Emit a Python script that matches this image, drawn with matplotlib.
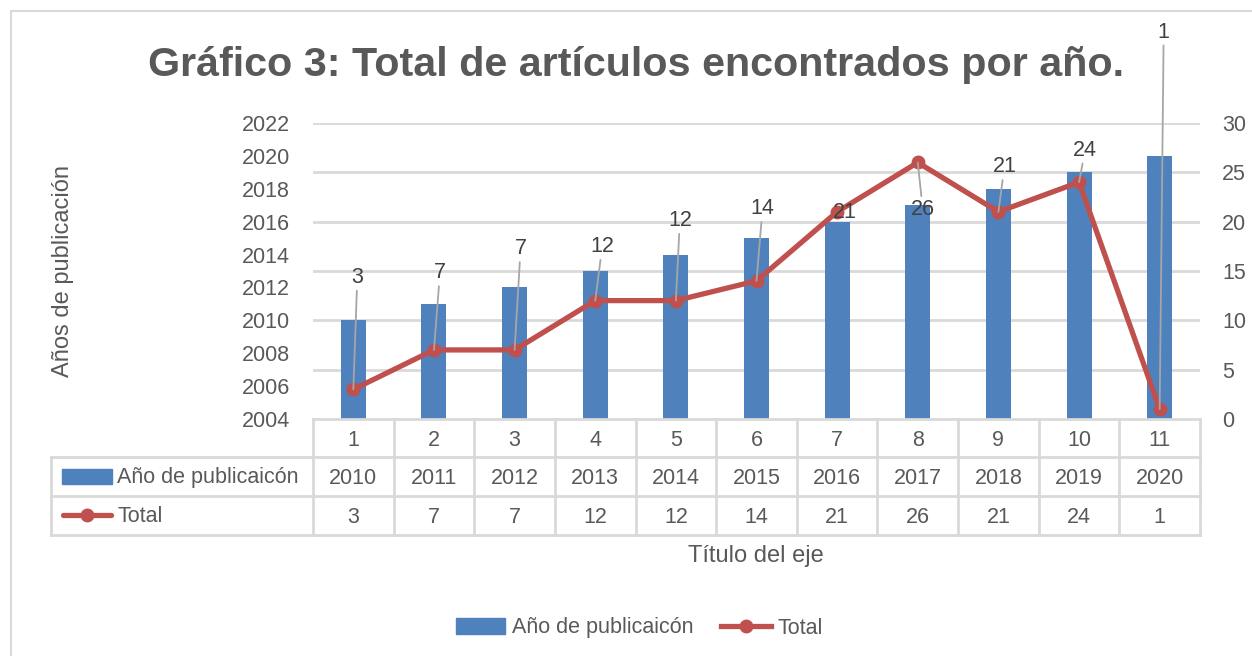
import matplotlib.pyplot as plt
from matplotlib.lines import Line2D
from matplotlib.patches import Rectangle, Patch
from matplotlib.transforms import blended_transform_factory
import numpy as np

# =========================
# DATA
# =========================
categories = ["1", "2", "3", "4", "5", "6", "7", "8", "9", "10", "11"]
years = [2010, 2011, 2012, 2013, 2014, 2015, 2016, 2017, 2018, 2019, 2020]
total = [3, 7, 7, 12, 12, 14, 21, 26, 21, 24, 1]

left_ticks = list(range(2004, 2023, 2))
right_ticks = list(range(0, 31, 5))

title = "Gráfico 3: Total de artículos encontrados por año."
bar_name = "Año de publicaicón"
line_name = "Total"

# label offsets (pixels) for the dragged data labels
label_offsets = [(4, 112), (6, 77), (6, 101), (7, 54), (4, 80), (6, 72),
                 (8, -1), (5, -47), (6, 45), (6, 32), (4, 377)]

# =========================
# STYLE
# =========================
BLUE = "#4F81BD"
RED = "#C0504D"
TXT = "#595959"
GRID = "#D9D9D9"
plt.rcParams["font.family"] = ["Liberation Sans", "DejaVu Sans"]
FS = 15.5
FS_T = 17

W, H = 1252, 656
fig = plt.figure(figsize=(W / 100, H / 100), dpi=100)


def fx(px):
    return px / W


def fy(py):
    return 1 - py / H


# outer chart border
fig.add_artist(Rectangle((fx(11), fy(700)), fx(1300), fy(11) - fy(700), transform=fig.transFigure,
                         fill=False, edgecolor="#D9D9D9", lw=1.5))

L, R, T, B = 313, 1200, 123, 419
ax = fig.add_axes([fx(L), fy(B), fx(R) - fx(L), fy(T) - fy(B)])
ax2 = ax.twinx()

x = np.arange(len(categories))
ax.bar(x, years, width=0.31, color=BLUE, zorder=2)
ax.set_ylim(2004, 2022)
ax.set_xlim(-0.5, len(categories) - 0.5)
ax.set_yticks(left_ticks)
ax.set_xticks([])

# gridlines follow the secondary axis ticks
for t in right_ticks[1:]:
    yv = 2004 + (t - right_ticks[0]) / (right_ticks[-1] - right_ticks[0]) * (2022 - 2004)
    ax.axhline(yv, color=GRID, lw=2, zorder=0)

ax2.plot(x, total, color=RED, lw=3.8, marker="o", markersize=9, zorder=3,
         solid_capstyle="round", solid_joinstyle="round")
ax2.set_ylim(0, 30)
ax2.set_yticks(right_ticks)

for a in (ax, ax2):
    for s in a.spines.values():
        s.set_visible(False)
    a.tick_params(length=0, labelsize=FS, labelcolor=TXT)
ax.tick_params(axis="y", pad=16.5)
ax2.tick_params(axis="y", pad=16)

# data labels with leader lines
for i, v in enumerate(total):
    dx, dy = label_offsets[i]
    arrow = dict(arrowstyle="-", color="#A6A6A6", lw=1.3, shrinkA=0, shrinkB=0) if abs(dy) > 20 else None
    ax2.annotate(str(v), xy=(x[i], v), xytext=(dx, dy), textcoords="offset pixels",
                 ha="center", va="center", fontsize=FS, color="#404040",
                 arrowprops=arrow, annotation_clip=False, zorder=4)

ax.set_ylabel("Años de publicación", fontsize=FS_T, color=TXT)
ax.yaxis.set_label_coords((74 - L) / (R - L), 0.5)

fig.text(fx(636), fy(65), title, ha="center", va="center", fontsize=29.7,
         fontweight="bold", color=TXT)

# =========================
# DATA TABLE
# =========================
tb = blended_transform_factory(ax.transData, fig.transFigure)
rows = [419, 457, 496, 535]
lc = dict(color=GRID, lw=2, clip_on=False)
# horizontal lines
fig.add_artist(Line2D([fx(L), fx(R)], [fy(rows[0])] * 2, transform=fig.transFigure, **lc))
for r in rows[1:]:
    fig.add_artist(Line2D([fx(51), fx(R)], [fy(r)] * 2, transform=fig.transFigure, **lc))
# vertical lines
fig.add_artist(Line2D([fx(51)] * 2, [fy(rows[1]), fy(rows[3])], transform=fig.transFigure, **lc))
for b in np.arange(len(categories) + 1) - 0.5:
    fig.add_artist(Line2D([b, b], [fy(rows[0]), fy(rows[3])], transform=tb, **lc))

for i in range(len(categories)):
    for j, val in enumerate([categories[i], years[i], total[i]]):
        fig.text(x[i], fy((rows[j] + rows[j + 1]) / 2 + 2), str(val), transform=tb,
                 ha="center", va="center", fontsize=FS, color=TXT)

# row headers with keys
fig.add_artist(Rectangle((fx(62), fy(484)), fx(50), fy(469) - fy(484), transform=fig.transFigure,
                         color=BLUE))
fig.text(fx(117), fy(478), bar_name, ha="left", va="center", fontsize=FS, color=TXT)
fig.add_artist(Line2D([fx(63), fx(111)], [fy(515)] * 2, transform=fig.transFigure, color=RED,
                      lw=3.8, solid_capstyle="round"))
fig.add_artist(Line2D([fx(87)], [fy(515)], transform=fig.transFigure, color=RED,
                      marker="o", markersize=9))
fig.text(fx(117), fy(517), line_name, ha="left", va="center", fontsize=FS, color=TXT)

fig.text(fx(756), fy(556), "Título del eje", ha="center", va="center", fontsize=FS_T, color=TXT)

# =========================
# LEGEND
# =========================
handles = [Patch(color=BLUE, label=bar_name),
           Line2D([], [], color=RED, lw=3.8, marker="o", markersize=9, label=line_name)]
fig.legend(handles=handles, loc="center", bbox_to_anchor=(fx(639), fy(628)), ncol=2,
           frameon=False, fontsize=FS, labelcolor=TXT, handlelength=2.3, handleheight=0.7,
           handletextpad=0.3, columnspacing=1.3)

fig.savefig("out.png", dpi=100)
